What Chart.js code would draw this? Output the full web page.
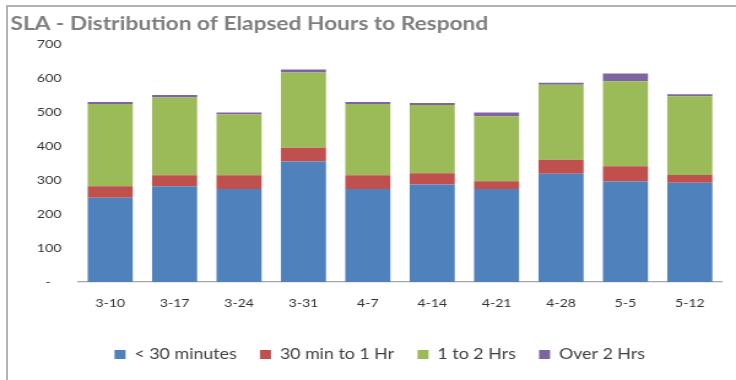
<!DOCTYPE html>
<html>
<head>
<meta charset="utf-8">
<script src="https://cdn.jsdelivr.net/npm/chart.js@4"></script>
<style>
  html, body { margin: 0; padding: 0; background: #fff; }
  body { width: 736px; height: 380px; position: relative; overflow: hidden; }
  /* the chart is laid out at 600px and widened to fill the 736px frame */
  #wrap { position: absolute; left: 0; top: 0; width: 600px; height: 380px;
          transform: scaleX(1.226667); transform-origin: 0 0; }
  #frame { position: absolute; left: 6px; top: 5px; right: 0; bottom: 0;
           border-left: 2px solid #b3b3b3; border-top: 2px solid #b3b3b3; pointer-events: none; }
</style>
</head>
<body>
<div id="wrap"><canvas id="c" width="600" height="380"></canvas></div>
<div id="frame"></div>
<script>
// Weekly response counts, split by elapsed time to first response
const weeks = ['3-10', '3-17', '3-24', '3-31', '4-7', '4-14', '4-21', '4-28', '5-5', '5-12'];
const under30Min = [248, 282, 274, 355, 274, 287, 274, 319, 296, 292];
const min30To1Hr = [34, 32, 40, 40, 40, 33, 23, 41, 45, 23];
const hrs1To2 = [242, 229, 179, 222, 210, 201, 191, 221, 250, 232];
const over2Hrs = [6, 8, 6, 9, 6, 6, 11, 6, 23, 6];
const yTicks = [0, 100, 200, 300, 400, 500, 600, 700];

const seriesNames = ['< 30 minutes', '30 min to 1 Hr', '1 to 2 Hrs', 'Over 2 Hrs'];
const seriesColors = ['#4f81bd', '#c0504d', '#9bbb59', '#8064a2'];
const seriesData = [under30Min, min30To1Hr, hrs1To2, over2Hrs];

// moves the legend row sideways without touching the plot area
const legendNudge = {
  id: 'legendNudge',
  afterLayout(chart, args, opts) {
    const lg = chart.legend;
    if (lg) { lg.left += opts.dx; lg.right += opts.dx; }
  }
};

new Chart(document.getElementById('c'), {
  type: 'bar',
  data: {
    labels: weeks,
    datasets: seriesNames.map((name, i) => ({
      label: name,
      data: seriesData[i],
      backgroundColor: seriesColors[i],
      borderWidth: 0,
      barPercentage: 0.7,
      categoryPercentage: 1.0
    }))
  },
  options: {
    responsive: false,
    animation: false,
    devicePixelRatio: 1,
    layout: { padding: { left: 8.5, right: 11.4, top: 0, bottom: 8.25 } },
    plugins: {
      title: {
        display: true,
        text: 'SLA - Distribution of Elapsed Hours to Respond',
        align: 'start',
        color: '#7f7f7f',
        font: { family: 'Lato', size: 18.5, weight: 'bold' },
        padding: { top: 12.5, bottom: 9.6 }
      },
      legend: {
        position: 'bottom',
        labels: {
          color: '#404040',
          font: { family: 'Lato', size: 14.5 },
          boxWidth: 9,
          boxHeight: 9,
          padding: 19
        }
      },
      tooltip: { enabled: false },
      legendNudge: { dx: 11 }
    },
    scales: {
      x: {
        stacked: true,
        grid: { display: false, drawTicks: false },
        border: { display: true, color: '#a6a6a6', width: 1.2 },
        ticks: { color: '#333333', font: { family: 'Lato', size: 11.5 }, padding: 14, maxRotation: 0 },
        afterFit(scale) { scale.height = 46.25; }
      },
      y: {
        stacked: true,
        min: 0,
        max: 700,
        grid: { display: false, drawTicks: false },
        border: { display: false },
        afterBuildTicks(scale) { scale.ticks = yTicks.map(v => ({ value: v })); },
        ticks: {
          color: '#333333',
          font: { family: 'Lato', size: 11.5 },
          padding: 13.5,
          callback: v => (v === 0 ? '-   ' : String(v))
        },
        afterFit(scale) { scale.width = 55.1; }
      }
    }
  },
  plugins: [legendNudge]
});
</script>
</body>
</html>
